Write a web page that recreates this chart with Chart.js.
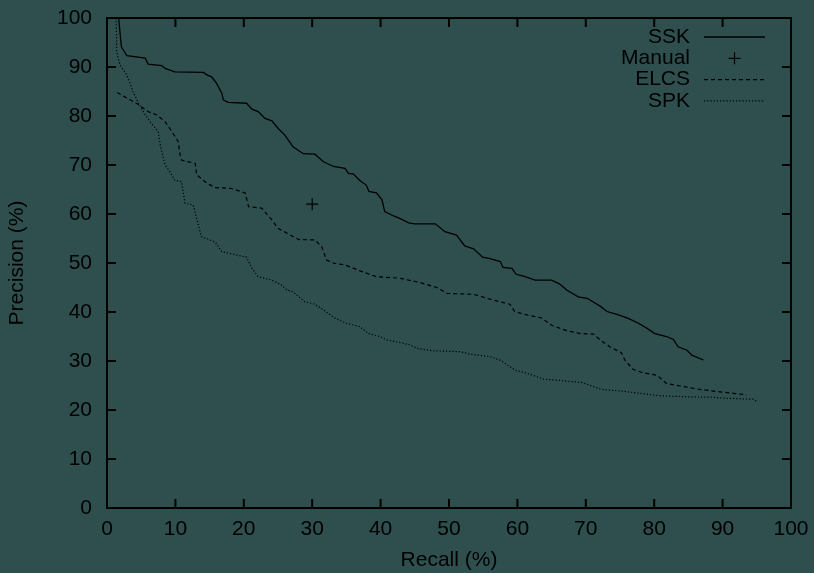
<!DOCTYPE html>
<html>
<head>
<meta charset="utf-8">
<script src="https://cdn.jsdelivr.net/npm/chart.js@4.4.1/dist/chart.umd.min.js"></script>
<style>
  html, body { margin: 0; padding: 0; background: #2f4f4f; }
  canvas { display: block; }
</style>
</head>
<body>
<canvas id="c" width="814" height="573"></canvas>
<script>
// ---- Data ----
const seriesNames = ['SSK', 'Manual', 'ELCS', 'SPK'];
const axisTicks = [0, 10, 20, 30, 40, 50, 60, 70, 80, 90, 100];

const sskRecall = [1.7, 2.1, 2.9, 5.6, 6.0, 8.0, 8.5, 9.9, 14.1, 14.6, 15.3, 16.0, 16.8, 17.0, 17.7, 20.4, 21.2, 22.1, 23.1, 24.1, 25.0, 26.0, 27.2, 28.7, 30.4, 31.6, 33.1, 34.8, 35.3, 36.0, 37.0, 37.9, 38.3, 39.4, 40.2, 40.6, 41.9, 42.8, 44.1, 45.0, 48.0, 49.4, 51.1, 52.3, 53.6, 54.9, 56.0, 57.5, 57.9, 59.2, 59.8, 60.9, 62.6, 65.0, 66.2, 67.2, 68.9, 70.2, 72.1, 73.1, 74.8, 76.2, 77.7, 78.9, 80.1, 81.8, 82.8, 83.5, 84.8, 85.5, 87.2];
const sskPrecision = [100, 94.1, 92.3, 91.8, 90.6, 90.3, 89.7, 89.0, 88.9, 88.4, 88.0, 86.7, 84.6, 83.3, 82.8, 82.6, 81.4, 80.9, 79.5, 79.0, 77.5, 76.1, 73.7, 72.3, 72.2, 70.7, 69.7, 69.3, 68.3, 68.2, 66.8, 65.9, 64.6, 64.3, 62.9, 60.5, 59.6, 59.1, 58.2, 58.0, 58.0, 56.4, 55.7, 53.5, 52.9, 51.2, 50.9, 50.3, 49.1, 48.9, 47.7, 47.3, 46.5, 46.5, 45.7, 44.5, 43.1, 42.8, 41.2, 40.1, 39.4, 38.7, 37.7, 36.7, 35.6, 35.0, 34.4, 32.9, 32.2, 31.2, 30.2];

const manualRecall = [30];
const manualPrecision = [62];

const elcsRecall = [1.5, 2.6, 4.3, 6.0, 7.3, 8.5, 9.5, 10.4, 10.7, 10.9, 12.9, 13.1, 14.6, 15.8, 18.2, 20.2, 20.7, 22.6, 24.1, 25.0, 26.8, 28.0, 30.4, 31.4, 32.1, 33.3, 34.8, 37.0, 39.4, 42.8, 45.8, 48.2, 49.7, 53.6, 56.5, 58.9, 59.6, 61.4, 63.5, 65.0, 67.2, 69.2, 71.1, 72.1, 73.5, 75.2, 75.7, 76.9, 78.4, 80.4, 81.8, 83.8, 86.7, 89.6, 91.6, 93.5];
const elcsPrecision = [84.8, 83.9, 82.6, 80.9, 80.2, 78.8, 76.8, 74.8, 72.0, 71.0, 70.3, 68.0, 66.3, 65.4, 65.2, 64.3, 61.5, 61.2, 58.8, 57.1, 55.7, 54.8, 54.7, 53.3, 50.6, 49.9, 49.6, 48.4, 47.2, 46.9, 46.0, 45.0, 43.8, 43.6, 42.4, 41.6, 40.1, 39.4, 38.8, 37.3, 36.2, 35.6, 35.5, 34.3, 32.9, 31.7, 30.2, 28.3, 27.6, 27.1, 25.4, 24.9, 24.2, 23.7, 23.4, 23.1];

const spkRecall = [1.3, 1.4, 1.4, 1.9, 2.9, 3.8, 4.6, 5.6, 6.5, 7.5, 7.7, 8.0, 8.5, 9.2, 9.9, 10.9, 11.4, 12.6, 13.8, 15.8, 16.8, 20.4, 21.2, 22.1, 24.1, 25.5, 26.3, 27.2, 28.9, 30.4, 32.4, 33.1, 35.0, 37.0, 38.2, 39.9, 40.9, 42.4, 44.3, 45.3, 47.5, 51.6, 53.1, 56.0, 57.6, 59.7, 61.4, 63.8, 65.7, 69.5, 72.3, 75.0, 77.9, 80.8, 84.8, 88.6, 90.6, 94.5, 95.1];
const spkPrecision = [100, 96.5, 93.1, 90.4, 88.4, 85.0, 82.6, 80.2, 78.5, 76.8, 74.8, 72.7, 70.0, 68.6, 66.9, 66.6, 62.2, 61.8, 55.4, 54.3, 52.3, 51.2, 48.9, 47.2, 46.5, 45.5, 44.5, 44.1, 42.1, 41.6, 39.7, 38.9, 37.7, 37.0, 35.6, 35.0, 34.3, 33.9, 33.3, 32.6, 32.1, 31.9, 31.4, 30.9, 30.1, 28.1, 27.5, 26.3, 26.1, 25.6, 24.2, 23.9, 23.4, 22.9, 22.7, 22.6, 22.4, 22.2, 21.7];

// ---- Helpers ----
const zip = (xs, ys) => xs.map((x, i) => ({ x: x, y: ys[i] }));
const FONT = '"Liberation Sans", Arial, Helvetica, sans-serif';
const FSIZE = 21;

const bgPlugin = {
  id: 'bg',
  beforeDraw(chart) {
    const ctx = chart.ctx;
    ctx.save();
    ctx.fillStyle = '#2f4f4f';
    ctx.fillRect(0, 0, chart.width, chart.height);
    ctx.restore();
  }
};

// frame with inward ticks on all four sides (gnuplot style) + legend
const framePlugin = {
  id: 'frame',
  afterDatasetsDraw(chart) {
    const ctx = chart.ctx;
    const xs = chart.scales.x, ys = chart.scales.y;
    const L = xs.getPixelForValue(0), R = xs.getPixelForValue(100);
    const T = ys.getPixelForValue(100), B = ys.getPixelForValue(0);
    ctx.save();
    ctx.strokeStyle = '#000';
    ctx.lineWidth = 2;
    ctx.beginPath();
    ctx.rect(L, T, R - L, B - T);
    ctx.stroke();
    const tl = 9;
    ctx.beginPath();
    axisTicks.forEach(v => {
      const px = xs.getPixelForValue(v);
      ctx.moveTo(px, B); ctx.lineTo(px, B - tl);
      ctx.moveTo(px, T); ctx.lineTo(px, T + tl);
      const py = ys.getPixelForValue(v);
      ctx.moveTo(L, py); ctx.lineTo(L + tl, py);
      ctx.moveTo(R, py); ctx.lineTo(R - tl, py);
    });
    ctx.stroke();

    // legend
    const textRight = 690, sx0 = 704, sx1 = 765, y0 = 37, dy = 21.3;
    ctx.font = FSIZE + 'px ' + FONT;
    ctx.textAlign = 'right';
    ctx.textBaseline = 'middle';
    chart.data.datasets.forEach((ds, i) => {
      const y = y0 + i * dy;
      ctx.fillStyle = '#000';
      ctx.fillText(ds.label, textRight, y);
      ctx.strokeStyle = '#000';
      if (ds.showLine) {
        ctx.lineWidth = ds.borderWidth;
        ctx.setLineDash(ds.borderDash || []);
        ctx.beginPath();
        ctx.moveTo(sx0, y); ctx.lineTo(sx1, y);
        ctx.stroke();
        ctx.setLineDash([]);
      } else {
        const cx = (sx0 + sx1) / 2, r = ds.pointRadius;
        ctx.lineWidth = ds.borderWidth;
        ctx.beginPath();
        ctx.moveTo(cx - r, y); ctx.lineTo(cx + r, y);
        ctx.moveTo(cx, y - r); ctx.lineTo(cx, y + r);
        ctx.stroke();
      }
    });
    ctx.restore();
  }
};

const tickFont = { family: FONT, size: FSIZE };

new Chart(document.getElementById('c'), {
  type: 'scatter',
  data: {
    datasets: [
      { label: seriesNames[0], data: zip(sskRecall, sskPrecision), showLine: true, borderColor: '#000', backgroundColor: '#000', borderWidth: 1.3, pointRadius: 0, tension: 0 },
      { label: seriesNames[1], data: zip(manualRecall, manualPrecision), showLine: false, pointStyle: 'cross', pointRadius: 6, borderColor: '#000', backgroundColor: '#000', borderWidth: 1.2 },
      { label: seriesNames[2], data: zip(elcsRecall, elcsPrecision), showLine: true, borderColor: '#000', backgroundColor: '#000', borderWidth: 1.2, borderDash: [4, 3], pointRadius: 0, tension: 0 },
      { label: seriesNames[3], data: zip(spkRecall, spkPrecision), showLine: true, borderColor: '#000', backgroundColor: '#000', borderWidth: 1.2, borderDash: [1.2, 2], pointRadius: 0, tension: 0 }
    ]
  },
  options: {
    responsive: false,
    animation: false,
    devicePixelRatio: 1,
    layout: { padding: { top: 18, right: 23, left: 0, bottom: 0 } },
    plugins: { legend: { display: false }, tooltip: { enabled: false } },
    scales: {
      x: {
        type: 'linear', min: 0, max: 100,
        afterBuildTicks(s) { s.ticks = axisTicks.map(v => ({ value: v })); },
        ticks: { color: '#000', font: tickFont, padding: 9, maxRotation: 0, autoSkip: false },
        grid: { display: false, drawTicks: false },
        border: { display: false },
        title: { display: true, text: 'Recall (%)', color: '#000', font: tickFont, padding: { top: 0, bottom: 0 } },
        afterFit(s) { s.height = 65; s.paddingLeft = 0; s.paddingRight = 0; }
      },
      y: {
        type: 'linear', min: 0, max: 100,
        afterBuildTicks(s) { s.ticks = axisTicks.map(v => ({ value: v })); },
        ticks: { color: '#000', font: tickFont, padding: 15, autoSkip: false },
        grid: { display: false, drawTicks: false },
        border: { display: false },
        title: { display: true, text: 'Precision (%)', color: '#000', font: tickFont, padding: { top: 5, bottom: 0 } },
        afterFit(s) { s.width = 107; s.paddingTop = 0; s.paddingBottom = 0; }
      }
    }
  },
  plugins: [bgPlugin, framePlugin]
});
</script>
</body>
</html>
